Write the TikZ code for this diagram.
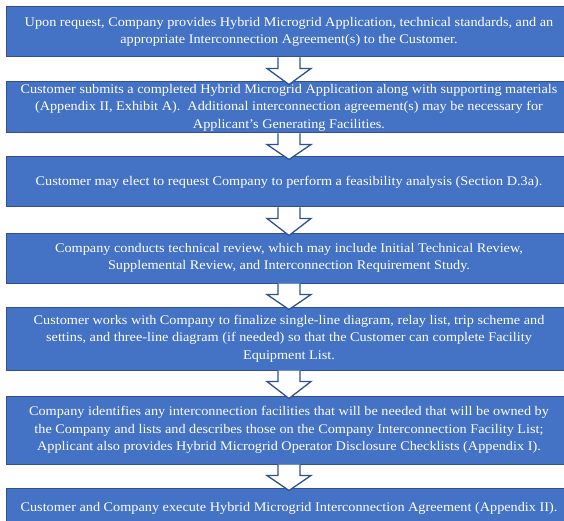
\documentclass[tikz,border=0pt]{standalone}
\usepackage{fontspec}
\setmainfont{Liberation Serif}[FakeStretch=1.08]
\usetikzlibrary{calc}
\definecolor{boxfill}{HTML}{4472C4}
\definecolor{boxline}{HTML}{2F528F}
\tikzset{
  stepbox/.style={draw=boxline, line width=1pt, fill=boxfill, text=white,
    minimum width=566pt, inner sep=0pt, align=center,
    font=\fontsize{13.2pt}{17.5pt}\selectfont},
  blockarrow/.style={draw=boxline, line width=1.3pt, fill=white, line join=miter}
}
\begin{document}
\begin{tikzpicture}[x=1pt,y=-1pt]
\useasboundingbox (0,0) rectangle (564,521);
\node[stepbox, minimum height=50pt] (b1) at (289,32)
  {Upon request, Company provides Hybrid Microgrid Application, technical standards, and an\\appropriate Interconnection Agreement(s) to the Customer.};
\node[stepbox, minimum height=51pt] (b2) at (289,107.5)
  {Customer submits a completed Hybrid Microgrid Application along with supporting materials\\(Appendix II, Exhibit A).\ \ Additional interconnection agreement(s) may be necessary for\\Applicant’s Generating Facilities.};
\node[stepbox, minimum height=50pt] (b3) at (289,182)
  {Customer may elect to request Company to perform a feasibility analysis (Section D.3a).};
\node[stepbox, minimum height=50pt] (b4) at (289,258)
  {Company conducts technical review, which may include Initial Technical Review,\\Supplemental Review, and Interconnection Requirement Study.};
\node[stepbox, minimum height=63pt] (b5) at (289,338.5)
  {Customer works with Company to finalize single-line diagram, relay list, trip scheme and\\settins, and three-line diagram (if needed) so that the Customer can complete Facility\\Equipment List.};
\node[stepbox, minimum height=68pt] (b6) at (289,430)
  {Company identifies any interconnection facilities that will be needed that will be owned by\\the Company and lists and describes those on the Company Interconnection Facility List;\\Applicant also provides Hybrid Microgrid Operator Disclosure Checklists (Appendix I).};
\node[stepbox, minimum height=40pt] (b7) at (289,508)
  {Customer and Company execute Hybrid Microgrid Interconnection Agreement (Appendix II).};
\foreach \a/\b in {b1/b2,b2/b3,b3/b4,b4/b5,b5/b6,b6/b7}{
  \draw[blockarrow] ($(\a.south)+(-11,0)$) -- ($(\a.south)+(-11,11)$) -- ($(\a.south)+(-22,11)$)
    -- ($(\b.north)+(0,3)$) -- ($(\a.south)+(22,11)$) -- ($(\a.south)+(11,11)$) -- ($(\a.south)+(11,0)$);
}
\end{tikzpicture}
\end{document}
